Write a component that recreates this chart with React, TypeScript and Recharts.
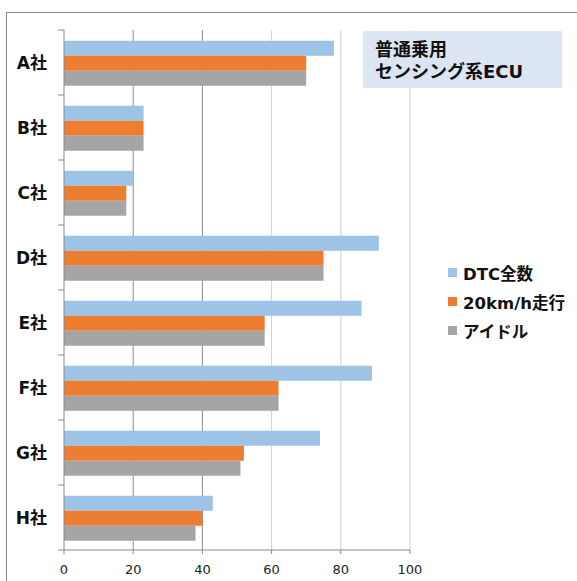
import React from 'react';
import { BarChart, Bar, XAxis, YAxis, CartesianGrid } from 'recharts';

const categories = ['A社', 'B社', 'C社', 'D社', 'E社', 'F社', 'G社', 'H社'];
const dtcTotal = [78, 23, 20, 91, 86, 89, 74, 43];
const run20 = [70, 23, 18, 75, 58, 62, 52, 40];
const idle = [70, 23, 18, 75, 58, 62, 51, 38];
const seriesNames = ['DTC全数', '20km/h走行', 'アイドル'];
const xTicks = [0, 20, 40, 60, 80, 100];
const titleLines = ['普通乗用', 'センシング系ECU'];

const data = categories.map((name, i) => ({
  name,
  dtc: dtcTotal[i],
  run: run20[i],
  idle: idle[i],
}));

const W = 577;
const H = 581;
const PLOT_LEFT = 64;
const PLOT_TOP = 30;
const PLOT_RIGHT = 410;
const PLOT_BOTTOM = 550;
const BAND = (PLOT_BOTTOM - PLOT_TOP) / categories.length;
const FONT = "'DejaVu Sans', 'Noto Sans CJK JP', sans-serif";
const colors = ['#9dc3e6', '#ed7d31', '#a5a5a5'];
const keys = ['dtc', 'run', 'idle'];
const AXIS = '#898989';

const YTick = (props: any) => {
  const { y, payload, index } = props;
  const top = y - BAND / 2;
  const bottom = y + BAND / 2;
  return (
    <g>
      <line x1={PLOT_LEFT - 6} x2={PLOT_LEFT} y1={top} y2={top} stroke={AXIS} />
      {index === categories.length - 1 && (
        <line x1={PLOT_LEFT - 6} x2={PLOT_LEFT} y1={bottom} y2={bottom} stroke={AXIS} />
      )}
      <text
        x={PLOT_LEFT - 17}
        y={y}
        textAnchor="end"
        dominantBaseline="central"
        fontFamily={FONT}
        fontWeight="bold"
        fontSize={17}
        fill="#111"
      >
        {payload.value}
      </text>
    </g>
  );
};

export default function App() {
  return (
    <div
      style={{
        position: 'absolute',
        left: 0,
        top: 0,
        width: W,
        height: H,
        overflow: 'hidden',
        background: '#fff',
        fontFamily: FONT,
      }}
    >
      <div
        style={{
          position: 'absolute',
          left: 6,
          top: 12,
          width: 700,
          height: 700,
          border: `1px solid ${AXIS}`,
        }}
      />
      <div style={{ position: 'absolute', left: 0, top: 0 }}>
        <BarChart
          width={W}
          height={H}
          data={data}
          layout="vertical"
          margin={{ top: PLOT_TOP, right: W - PLOT_RIGHT, bottom: 0, left: 0 }}
          barCategoryGap="16.5%"
          barGap={0}
        >
          <CartesianGrid horizontal={false} verticalValues={[20, 40]} stroke="#8c8c8c" />
          <CartesianGrid horizontal={false} verticalValues={[60, 80, 100]} stroke="#d0d0d0" />
          <XAxis
            type="number"
            domain={[0, 100]}
            ticks={xTicks}
            height={H - PLOT_BOTTOM}
            axisLine={{ stroke: AXIS }}
            tickLine={{ stroke: AXIS }}
            tickSize={4}
            tickMargin={11}
            tick={{ fontFamily: FONT, fontSize: 13, fill: '#222' }}
            interval={0}
          />
          <YAxis
            type="category"
            dataKey="name"
            width={PLOT_LEFT}
            axisLine={{ stroke: AXIS }}
            tickLine={false}
            tick={<YTick />}
            interval={0}
          />
          {keys.map((k, i) => (
            <Bar
              key={k}
              dataKey={k}
              name={seriesNames[i]}
              fill={colors[i]}
              isAnimationActive={false}
            />
          ))}
        </BarChart>
      </div>
      <div
        style={{
          position: 'absolute',
          left: 363,
          top: 31,
          width: 199,
          height: 57,
          background: '#dce6f2',
          boxSizing: 'border-box',
          paddingLeft: 12,
          paddingTop: 8,
          fontWeight: 'bold',
          fontSize: 18,
          lineHeight: '22px',
          color: '#111',
        }}
      >
        {titleLines.map((t) => (
          <div key={t}>{t}</div>
        ))}
      </div>
      <div style={{ position: 'absolute', left: 448, top: 258 }}>
        {seriesNames.map((n, i) => (
          <div
            key={n}
            style={{
              display: 'flex',
              alignItems: 'center',
              height: 29,
              fontWeight: 'bold',
              fontSize: 16.5,
              color: '#111',
            }}
          >
            <span
              style={{
                display: 'inline-block',
                width: 9,
                height: 9,
                background: colors[i],
                marginRight: 6,
              }}
            />
            <span>{n}</span>
          </div>
        ))}
      </div>
    </div>
  );
}
